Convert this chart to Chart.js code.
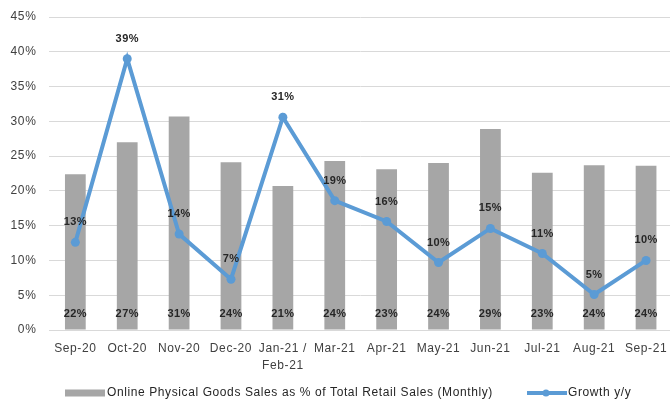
<!DOCTYPE html>
<html>
<head>
<meta charset="utf-8">
<script src="https://cdn.jsdelivr.net/npm/chart.js@4/dist/chart.umd.min.js"></script>
<style>
  html, body { margin: 0; padding: 0; background: #fff; overflow: hidden; }
  #wrap { width: 670px; height: 399px; overflow: hidden; }
</style>
</head>
<body>
<!-- the plot runs a couple of pixels past the visible right edge -->
<div id="wrap"><canvas id="salesChart" width="672" height="399"></canvas></div>
<script>
// months on the x axis (Jan/Feb reported together)
const months = ['Sep-20', 'Oct-20', 'Nov-20', 'Dec-20', ['Jan-21 /', 'Feb-21'], 'Mar-21',
                'Apr-21', 'May-21', 'Jun-21', 'Jul-21', 'Aug-21', 'Sep-21'];

// online physical goods sales as % of total retail sales
const onlineShare = [22.4, 27.0, 30.7, 24.1, 20.7, 24.3, 23.1, 24.0, 28.9, 22.6, 23.7, 23.6];

// growth y/y, %
const growthYoY = [12.6, 39.0, 13.8, 7.3, 30.6, 18.6, 15.6, 9.7, 14.6, 11.0, 5.1, 10.0];

const yTicks = [0, 5, 10, 15, 20, 25, 30, 35, 40, 45];

const barName = 'Online Physical Goods Sales as % of Total Retail Sales (Monthly)';
const lineName = 'Growth y/y';

const BAR_COLOR = '#A6A6A6';
const LINE_COLOR = '#5B9BD5';
const TEXT_COLOR = '#262626';
const FONT = '"Liberation Sans", Arial, sans-serif';
const SPACING = '0.6px';

// slightly wider text spacing for all canvas text
const textSpacing = {
  id: 'textSpacing',
  beforeLayout(chart) { chart.ctx.letterSpacing = SPACING; },
  beforeDraw(chart) { chart.ctx.letterSpacing = SPACING; }
};

// value labels: bar values sit near the base, growth values above each point
const valueLabels = {
  id: 'valueLabels',
  afterDatasetsDraw(chart) {
    const ctx = chart.ctx;
    const yScale = chart.scales.y;
    ctx.save();
    ctx.letterSpacing = '0.4px';
    ctx.font = 'bold 11px ' + FONT;
    ctx.fillStyle = TEXT_COLOR;
    ctx.textAlign = 'center';
    ctx.textBaseline = 'middle';
    chart.data.datasets.forEach((ds, i) => {
      const meta = chart.getDatasetMeta(i);
      meta.data.forEach((el, j) => {
        const txt = Math.round(ds.data[j]) + '%';
        if (ds.type === 'bar') {
          ctx.fillText(txt, el.x, yScale.getPixelForValue(0) - 16.5);
        } else {
          ctx.fillText(txt, el.x, el.y - 20);
        }
      });
    });
    ctx.restore();
  }
};

// legend row under the axis labels
const bottomLegend = {
  id: 'bottomLegend',
  afterDraw(chart) {
    const ctx = chart.ctx;
    const y = 393;
    ctx.save();
    ctx.fillStyle = BAR_COLOR;
    ctx.fillRect(65, y - 3.5, 40, 7);

    ctx.strokeStyle = LINE_COLOR;
    ctx.lineWidth = 4;
    ctx.beginPath();
    ctx.moveTo(527, y);
    ctx.lineTo(567, y);
    ctx.stroke();
    ctx.fillStyle = LINE_COLOR;
    ctx.beginPath();
    ctx.arc(546, y, 3.5, 0, Math.PI * 2);
    ctx.fill();

    ctx.letterSpacing = SPACING;
    ctx.font = '12px ' + FONT;
    ctx.fillStyle = TEXT_COLOR;
    ctx.textAlign = 'left';
    ctx.textBaseline = 'middle';
    ctx.fillText(barName, 107, y);
    ctx.fillText(lineName, 568, y);
    ctx.restore();
  }
};

const ctx = document.getElementById('salesChart').getContext('2d');
const myChart = new Chart(ctx, {
  data: {
    labels: months,
    datasets: [
      {
        type: 'line',
        label: lineName,
        data: growthYoY,
        borderColor: LINE_COLOR,
        backgroundColor: LINE_COLOR,
        borderWidth: 4,
        pointRadius: 4.5,
        pointBackgroundColor: LINE_COLOR,
        pointBorderWidth: 0,
        tension: 0,
        clip: false,
        order: 0
      },
      {
        type: 'bar',
        label: barName,
        data: onlineShare,
        backgroundColor: BAR_COLOR,
        categoryPercentage: 1,
        barPercentage: 0.4,
        order: 1
      }
    ]
  },
  options: {
    responsive: false,
    animation: false,
    layout: { autoPadding: false, padding: { top: 17, right: 0, left: 0, bottom: 0 } },
    scales: {
      x: {
        grid: { display: false },
        border: { color: '#D9D9D9', width: 1 },
        ticks: {
          color: '#404040',
          font: { family: FONT, size: 12, lineHeight: 1.4 },
          padding: 2,
          maxRotation: 0,
          autoSkip: false
        },
        afterFit: s => { s.height = 69; }
      },
      y: {
        min: 0,
        max: 45,
        afterBuildTicks: s => { s.ticks = yTicks.map(v => ({ value: v })); },
        grid: { color: '#D9D9D9', lineWidth: 1, drawTicks: false },
        border: { display: false },
        ticks: {
          color: '#404040',
          font: { family: FONT, size: 12 },
          padding: 13,
          callback: v => v + '%'
        },
        // fixed axis width; top label may sit right at the top padding
        afterFit: s => {
          s.width = 49.4;
          s.paddingTop = 0;
          s.paddingBottom = 0;
        }
      }
    },
    plugins: {
      legend: { display: false },
      tooltip: { enabled: false }
    }
  },
  plugins: [textSpacing, valueLabels, bottomLegend]
});
</script>
</body>
</html>
